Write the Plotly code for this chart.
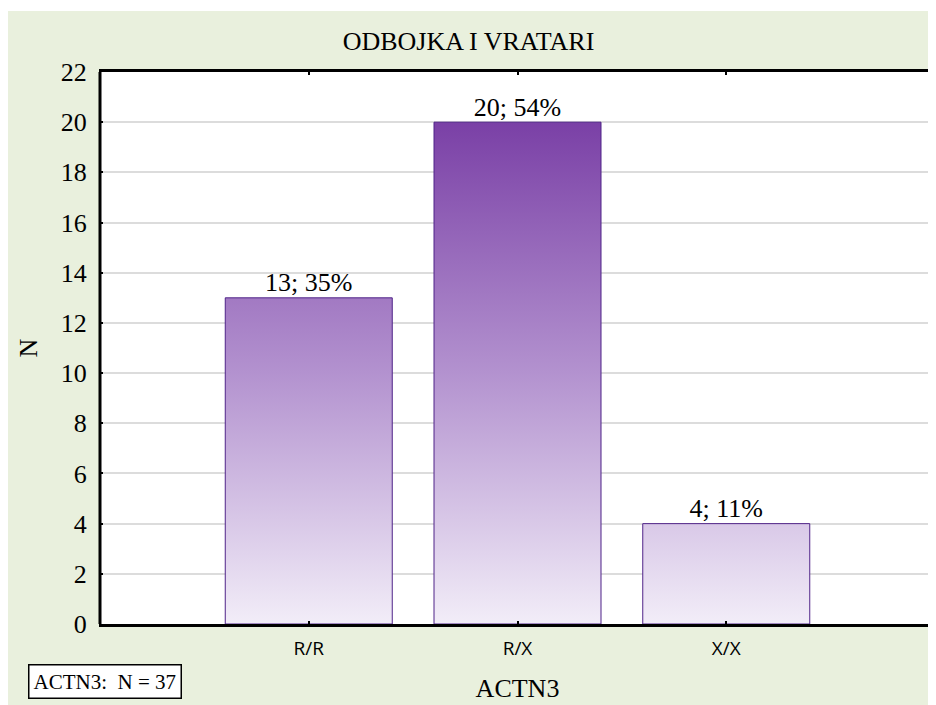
import plotly.graph_objects as go

categories = ["R/R", "R/X", "X/X"]
counts = [13, 20, 4]
percents = [35, 54, 11]
y_ticks = list(range(0, 23, 2))

W, H = 928, 697
ML, MR, MT, MB = 92, 1, 64, 81
PW, PH = W - ML - MR, H - MT - MB

def px_x(p):
    return (p - ML) / PW

def px_y(p):
    return (H - MB - p) / PH

half = 0.4
xs, ys = [], []
for i, v in enumerate(counts):
    xs += [i - half, i + half, i + half, i - half, i - half, None]
    ys += [0, 0, v, v, 0, None]

fig = go.Figure()
fig.add_trace(go.Scatter(
    x=xs, y=ys, mode="lines", fill="toself",
    line=dict(color="#4f2388", width=1),
    fillgradient=dict(type="vertical", start=0, stop=max(counts),
                      colorscale=[[0, "#f2edf8"], [0.5, "#b392cf"], [1, "#7a40a6"]]),
    hoverinfo="skip", showlegend=False,
))
fig.add_trace(go.Scatter(
    x=list(range(len(categories))), y=counts, mode="text",
    text=[f"{c}; {p}%" for c, p in zip(counts, percents)],
    textposition="top center",
    textfont=dict(family="Liberation Serif", size=26, color="black"),
    showlegend=False, hoverinfo="skip",
))

shapes = [
    dict(type="rect", xref="paper", yref="paper", layer="below",
         x0=px_x(-2), x1=px_x(W + 5), y0=px_y(H + 5), y1=px_y(3),
         fillcolor="#e9f0dd", line=dict(width=0)),
    dict(type="rect", xref="paper", yref="paper", layer="below",
         x0=0, x1=1, y0=0, y1=1, fillcolor="white", line=dict(width=0)),
    dict(type="line", xref="paper", yref="paper", layer="above",
         x0=0, x1=0, y0=0, y1=1, line=dict(color="black", width=3)),
]

fig.update_layout(
    width=W, height=H,
    margin=dict(l=ML, r=MR, t=MT, b=MB),
    paper_bgcolor="white", plot_bgcolor="white",
    title=dict(text="ODBOJKA I VRATARI", x=460.5 / W, xref="container", xanchor="center",
               y=1 - 33 / H, yanchor="middle",
               font=dict(family="Liberation Serif", size=26, color="black")),
    shapes=shapes,
    annotations=[dict(
        text="ACTN3:  N = 37", xref="paper", yref="paper",
        x=px_x(20), y=px_y(673.5), xanchor="left", yanchor="middle",
        showarrow=False, bordercolor="black", borderwidth=1.5, borderpad=4,
        bgcolor="white", font=dict(family="Liberation Serif", size=21, color="black"),
    )],
    xaxis=dict(
        tickmode="array", tickvals=list(range(len(categories))), ticktext=categories,
        range=[-1, 3], showgrid=False, zeroline=False,
        showline=True, linecolor="black", linewidth=2.5, mirror="ticks",
        ticks="inside", ticklen=3, tickwidth=2, tickcolor="black",
        ticklabelstandoff=5,
        tickfont=dict(family="Open Sans", size=19, color="black"),
        title=dict(text="ACTN3", standoff=20,
                   font=dict(family="Liberation Serif", size=26, color="black")),
    ),
    yaxis=dict(
        range=[0, 22], tickvals=y_ticks, showgrid=True, gridcolor="#dcdcdc", gridwidth=2,
        zeroline=False, showline=True, linecolor="black", linewidth=1, mirror="ticks",
        ticks="inside", ticklen=3, tickwidth=2, tickcolor="black",
        ticklabelstandoff=7,
        tickfont=dict(family="Liberation Serif", size=26, color="black"),
        title=dict(text="N", standoff=15,
                   font=dict(family="Liberation Serif", size=26, color="black")),
    ),
)

fig.write_html("out.html")
